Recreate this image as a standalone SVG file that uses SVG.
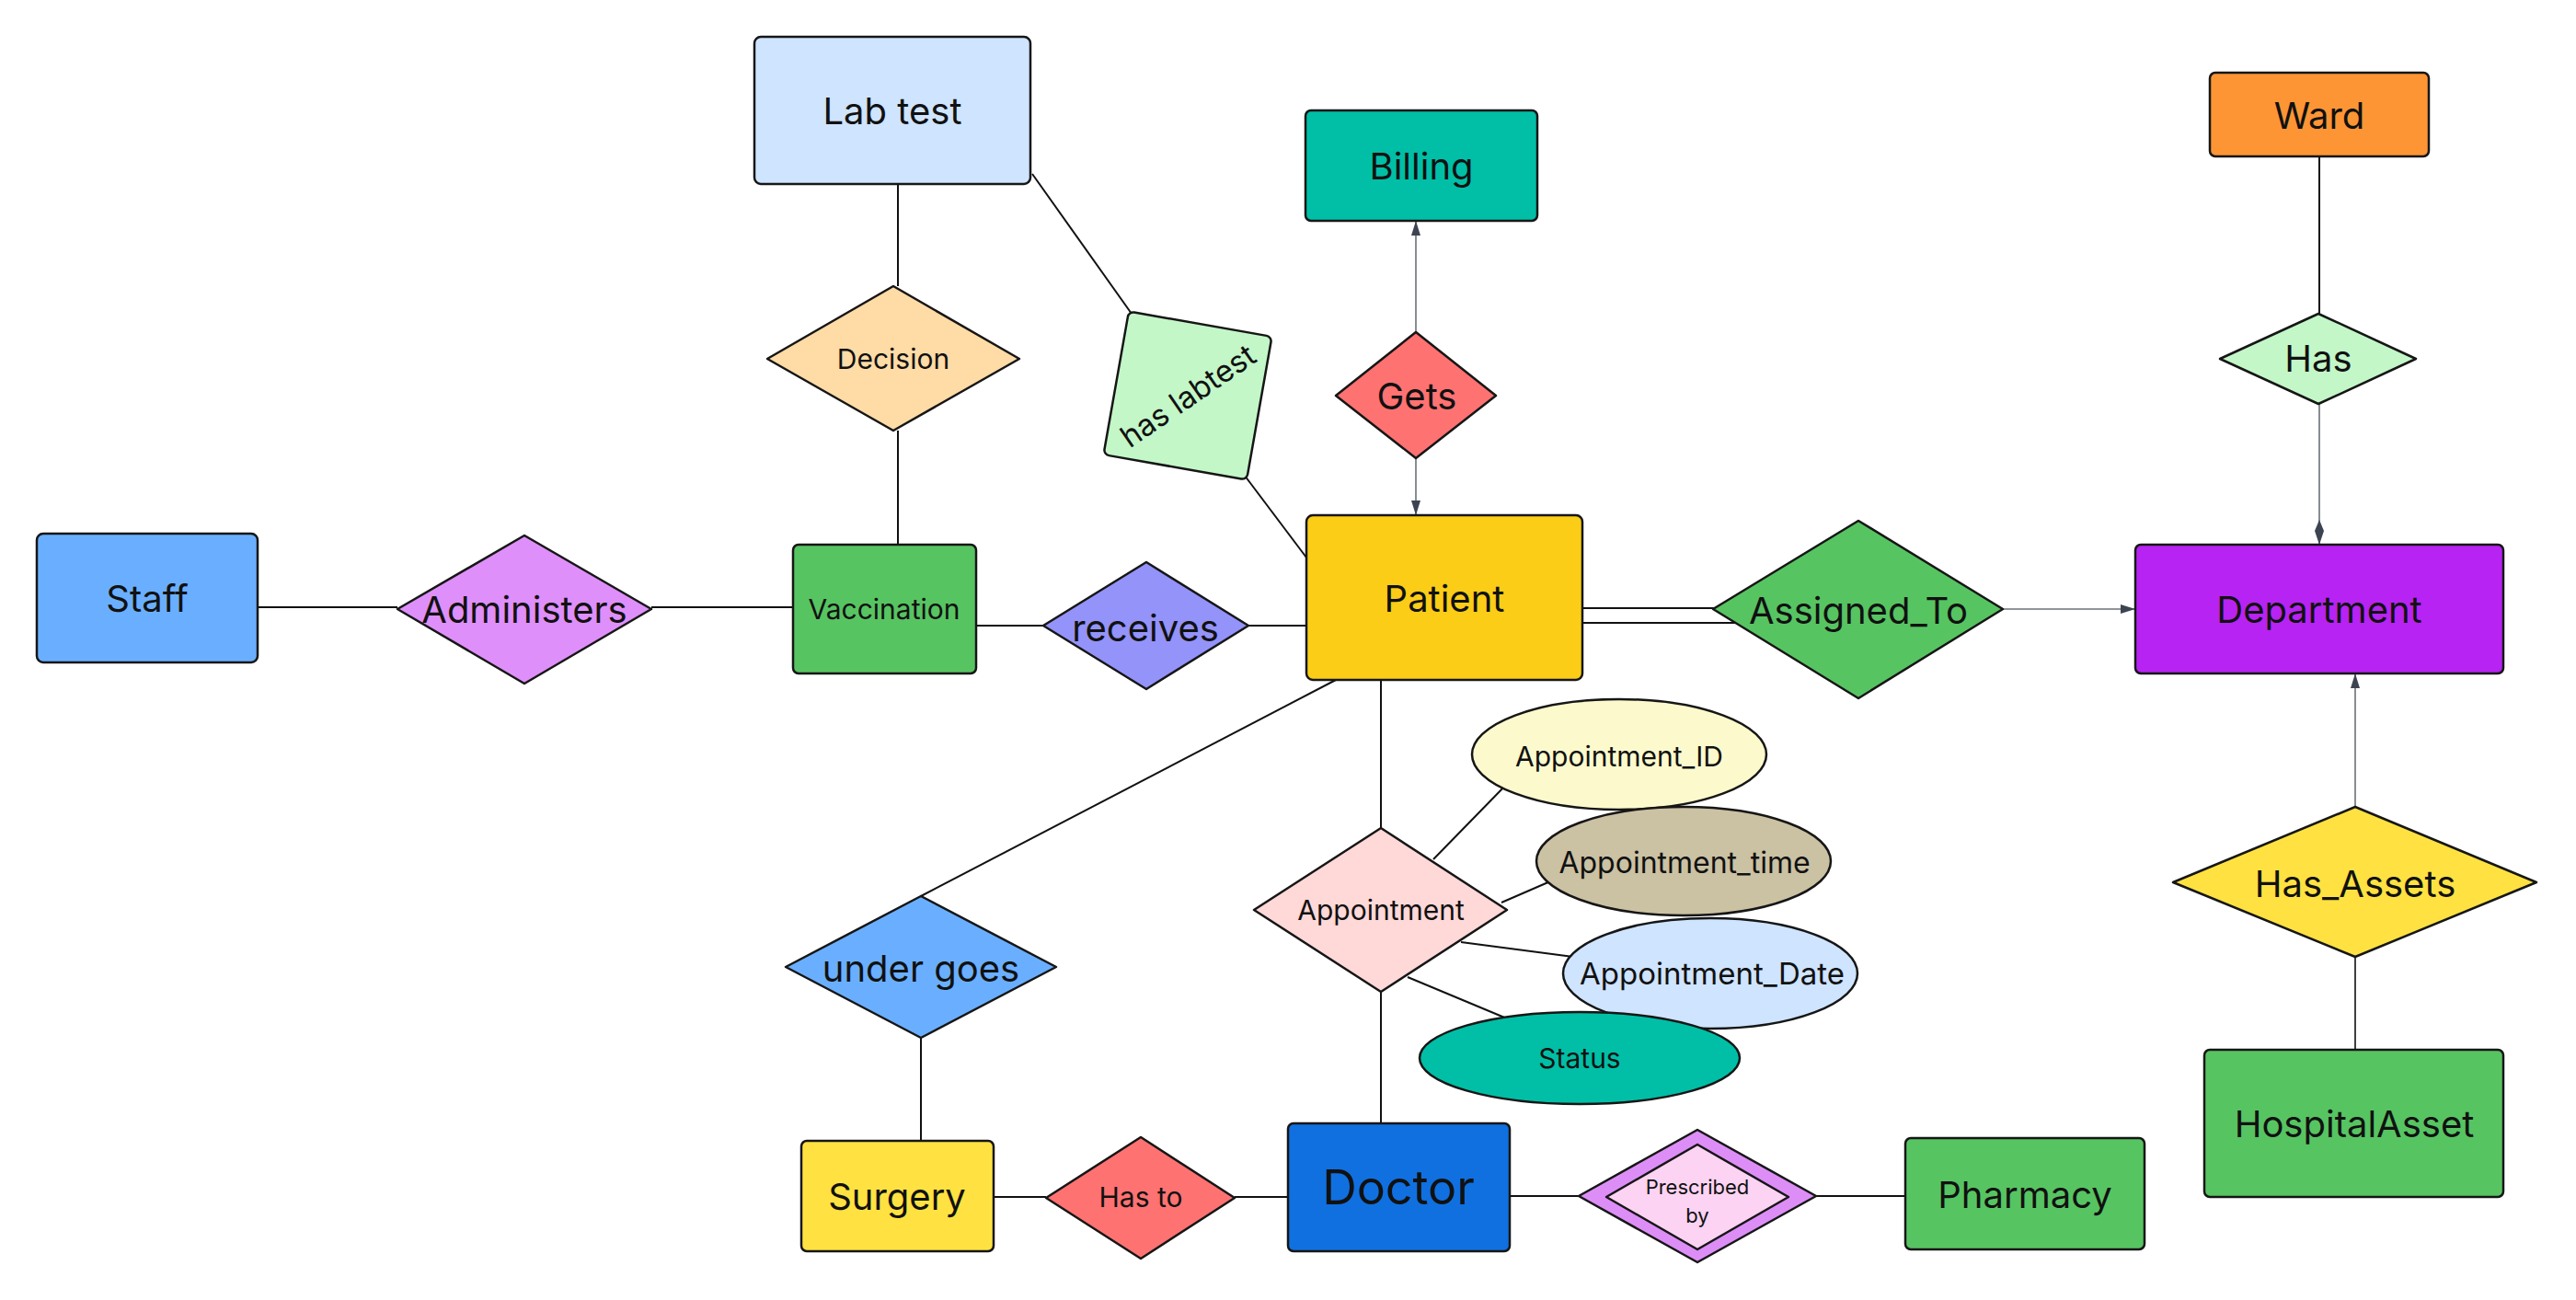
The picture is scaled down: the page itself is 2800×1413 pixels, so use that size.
<svg xmlns="http://www.w3.org/2000/svg" width="2800" height="1413" viewBox="0 0 2800 1413">
<style>
.n{stroke:#161616;stroke-width:2.5;stroke-linejoin:round}
.t{font-family:Inter,"Noto Sans","Liberation Sans",sans-serif;fill:#111;text-anchor:middle;dominant-baseline:central}
.c{stroke:#111;stroke-width:2;fill:none}
.g{stroke:#6b7077;stroke-width:1.6;fill:none}
</style>
<defs>
<marker id="arr" markerUnits="userSpaceOnUse" markerWidth="16" markerHeight="10" refX="16" refY="5" orient="auto"><path d="M0,0 L16,5 L0,10 Z" fill="#3d4451"/></marker>
<marker id="dia" markerUnits="userSpaceOnUse" markerWidth="27" markerHeight="10" refX="27" refY="5" orient="auto"><path d="M0,5 L12,0 L27,5 L12,10 Z" fill="#3d4451"/></marker>
</defs>
<rect width="2800" height="1413" fill="#fff"/>
<g id="connectors">
<path class="c" d="M280,660 H432"/>
<path class="c" d="M708,660 H862"/>
<path class="c" d="M1061,680 H1134"/>
<path class="c" d="M1357,680 H1420"/>
<path class="c" d="M976,200 V311"/>
<path class="c" d="M976,468 V592"/>
<path class="c" d="M1122,189 L1230,341"/>
<path class="c" d="M1353,517 L1420,606"/>
<path class="c" d="M1720,661 H1870"/>
<path class="c" d="M1720,677 H1890"/>
<path class="g" d="M2177,662 H2321" marker-end="url(#arr)"/>
<path class="g" d="M1539,361 V240" marker-end="url(#arr)"/>
<path class="g" d="M1539,498 V560" marker-end="url(#arr)"/>
<path class="c" d="M2521,170 V341"/>
<path class="g" d="M2521,439 V592" marker-end="url(#dia)"/>
<path class="g" d="M2560,877 V732" marker-end="url(#arr)"/>
<path class="c" d="M2560,1040 V1141" style="stroke-width:1.6"/>
<path class="c" d="M1452,739 L1001,974"/>
<path class="c" d="M1001,1128 V1240"/>
<path class="c" d="M1080,1301 H1137"/>
<path class="c" d="M1342,1301 H1400"/>
<path class="c" d="M1501,739 V900"/>
<path class="c" d="M1501,1078 V1221"/>
<path class="c" d="M1641,1300 H1716"/>
<path class="c" d="M1974,1300 H2071"/>
<path class="c" d="M1558,934 L1640,850"/>
<path class="c" d="M1632,981 L1685,958"/>
<path class="c" d="M1588,1024 L1710,1040"/>
<path class="c" d="M1530,1062 L1645,1110"/>
</g>
<g id="labtest"><rect class="n" x="820" y="40" width="300" height="160" rx="7" fill="#cfe4ff"/><text class="t" x="970" y="120" font-size="40">Lab test</text></g>
<g id="decision"><polygon class="n" points="834,390 971,311 1108,390 971,468" fill="#ffdba6"/><text class="t" x="971" y="390" font-size="30">Decision</text></g>
<g id="haslabtest"><rect class="n" x="1212" y="351" width="158" height="158" rx="6" fill="#c3f7c8" transform="rotate(10 1291 430)"/><text class="t" x="1291" y="430" font-size="33" transform="rotate(-34.5 1291 430)">has labtest</text></g>
<g id="staff"><rect class="n" x="40" y="580" width="240" height="140" rx="7" fill="#6aafff"/><text class="t" x="160" y="650" font-size="40">Staff</text></g>
<g id="administers"><polygon class="n" points="432,662 570,582 708,662 570,743" fill="#df8ffa"/><text class="t" x="570" y="662" font-size="40">Administers</text></g>
<g id="vaccination"><rect class="n" x="862" y="592" width="199" height="140" rx="6" fill="#57c462"/><text class="t" x="961" y="662" font-size="30">Vaccination</text></g>
<g id="receives"><polygon class="n" points="1134,680 1246,611 1357,680 1246,749" fill="#9393fa"/><text class="t" x="1245" y="682" font-size="40">receives</text></g>
<g id="billing"><rect class="n" x="1419" y="120" width="252" height="120" rx="6" fill="#00bfa6"/><text class="t" x="1545" y="180" font-size="40">Billing</text></g>
<g id="gets"><polygon class="n" points="1452,430 1539,361 1626,430 1539,498" fill="#ff7272"/><text class="t" x="1540" y="430" font-size="40">Gets</text></g>
<g id="patient"><rect class="n" x="1420" y="560" width="300" height="179" rx="7" fill="#fbcd17"/><text class="t" x="1570" y="650" font-size="40">Patient</text></g>
<g id="assignedto"><polygon class="n" points="1862,662 2020,566 2177,662 2020,759" fill="#57c462"/><text class="t" x="2020" y="663" font-size="40">Assigned_To</text></g>
<g id="ward"><rect class="n" x="2402" y="79" width="238" height="91" rx="6" fill="#fd9535"/><text class="t" x="2521" y="125" font-size="40">Ward</text></g>
<g id="has"><polygon class="n" points="2413,390 2520,341 2626,390 2520,439" fill="#c3f7c8"/><text class="t" x="2520" y="389" font-size="40">Has</text></g>
<g id="department"><rect class="n" x="2321" y="592" width="400" height="140" rx="6" fill="#b723f2"/><text class="t" x="2521" y="662" font-size="40">Department</text></g>
<g id="appointment"><polygon class="n" points="1363,989 1501,900 1638,989 1501,1078" fill="#ffd8d8"/><text class="t" x="1501" y="989" font-size="30">Appointment</text></g>
<g id="appointment_id"><ellipse class="n" cx="1760" cy="820" rx="160" ry="60" fill="#fcfacc"/><text class="t" x="1760" y="822" font-size="30">Appointment_ID</text></g>
<g id="appointment_time"><ellipse class="n" cx="1830" cy="936" rx="160" ry="59" fill="#cbc1a3"/><text class="t" x="1831" y="937" font-size="32">Appointment_time</text></g>
<g id="appointment_date"><ellipse class="n" cx="1859" cy="1058" rx="160" ry="60" fill="#cfe4ff"/><text class="t" x="1861" y="1058" font-size="33">Appointment_Date</text></g>
<g id="status"><ellipse class="n" cx="1717" cy="1150" rx="174" ry="50" fill="#00bfa6"/><text class="t" x="1717" y="1150" font-size="30">Status</text></g>
<g id="undergoes"><polygon class="n" points="854,1051 1001,974 1148,1051 1001,1128" fill="#6aafff"/><text class="t" x="1001" y="1052" font-size="40">under goes</text></g>
<g id="surgery"><rect class="n" x="871" y="1240" width="209" height="120" rx="6" fill="#ffe241"/><text class="t" x="975" y="1300" font-size="40">Surgery</text></g>
<g id="hasto"><polygon class="n" points="1137,1302 1240,1236 1342,1302 1240,1368" fill="#ff7272"/><text class="t" x="1240" y="1301" font-size="30">Has to</text></g>
<g id="doctor"><rect class="n" x="1400" y="1221" width="241" height="139" rx="6" fill="#1070e0"/><text class="t" x="1520" y="1290" font-size="52">Doctor</text></g>
<g id="prescribedby"><polygon class="n" points="1716,1300 1845,1228 1974,1300 1845,1372" fill="#dd8ef6"/><polygon class="n" points="1746,1301 1845,1244 1944,1301 1845,1358" fill="#fcd3f3"/><text class="t" x="1845" y="1290" font-size="22">Prescribed</text><text class="t" x="1845" y="1321" font-size="22">by</text></g>
<g id="pharmacy"><rect class="n" x="2071" y="1237" width="260" height="121" rx="6" fill="#57c462"/><text class="t" x="2201" y="1298" font-size="40">Pharmacy</text></g>
<g id="hasassets"><polygon class="n" points="2362,959 2560,877 2757,959 2560,1040" fill="#ffe241"/><text class="t" x="2560" y="960" font-size="40">Has_Assets</text></g>
<g id="hospitalasset"><rect class="n" x="2396" y="1141" width="325" height="160" rx="6" fill="#57c462"/><text class="t" x="2559" y="1221" font-size="40">HospitalAsset</text></g>
</svg>
